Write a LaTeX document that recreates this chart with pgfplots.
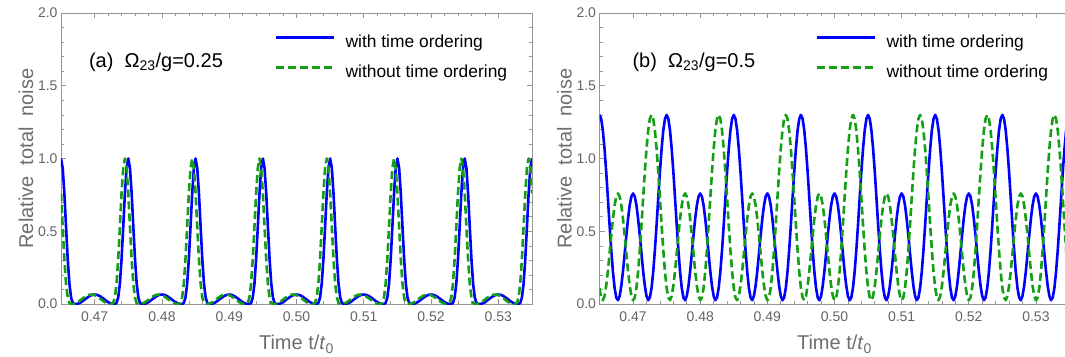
\documentclass[border=0pt]{standalone}
\usepackage{fontspec}
\setmainfont{Liberation Sans}
\usepackage{pgfplots}
\usepackage{pgfplotstable}
\pgfplotsset{compat=1.18}
\definecolor{mblue}{RGB}{0,0,255}
\definecolor{mgreen}{RGB}{20,160,20}
\definecolor{framegray}{RGB}{150,150,150}
\definecolor{tickgray}{RGB}{100,100,100}
\definecolor{labelgray}{RGB}{110,110,110}

\pgfplotstableread[row sep=\\]{
x ba ga bb gb\\
0.46500 1.000 0.761 1.300 0.110\\
0.46525 0.935 0.531 1.273 0.044\\
0.46550 0.761 0.308 1.193 0.026\\
0.46575 0.531 0.139 1.067 0.055\\
0.46600 0.308 0.044 0.908 0.125\\
0.46625 0.139 0.007 0.728 0.226\\
0.46650 0.044 0.000 0.543 0.346\\
0.46675 0.007 0.000 0.370 0.471\\
0.46700 0.000 0.002 0.222 0.586\\
0.46725 0.000 0.007 0.110 0.679\\
0.46750 0.002 0.013 0.044 0.739\\
0.46775 0.007 0.021 0.026 0.760\\
0.46800 0.013 0.030 0.055 0.739\\
0.46825 0.021 0.039 0.125 0.679\\
0.46850 0.030 0.047 0.226 0.586\\
0.46875 0.039 0.055 0.346 0.471\\
0.46900 0.047 0.060 0.471 0.346\\
0.46925 0.055 0.064 0.586 0.226\\
0.46950 0.060 0.065 0.679 0.125\\
0.46975 0.064 0.064 0.739 0.055\\
0.47000 0.065 0.060 0.760 0.026\\
0.47025 0.064 0.055 0.739 0.044\\
0.47050 0.060 0.047 0.679 0.110\\
0.47075 0.055 0.039 0.586 0.222\\
0.47100 0.047 0.030 0.471 0.370\\
0.47125 0.039 0.021 0.346 0.543\\
0.47150 0.030 0.013 0.226 0.728\\
0.47175 0.021 0.007 0.125 0.908\\
0.47200 0.013 0.002 0.055 1.067\\
0.47225 0.007 0.000 0.026 1.193\\
0.47250 0.002 0.000 0.044 1.273\\
0.47275 0.000 0.007 0.110 1.300\\
0.47300 0.000 0.044 0.222 1.273\\
0.47325 0.007 0.139 0.370 1.193\\
0.47350 0.044 0.308 0.543 1.067\\
0.47375 0.139 0.531 0.728 0.908\\
0.47400 0.308 0.761 0.908 0.728\\
0.47425 0.531 0.935 1.067 0.543\\
0.47450 0.761 1.000 1.193 0.370\\
0.47475 0.935 0.935 1.273 0.222\\
0.47500 1.000 0.761 1.300 0.110\\
0.47525 0.935 0.531 1.273 0.044\\
0.47550 0.761 0.308 1.193 0.026\\
0.47575 0.531 0.139 1.067 0.055\\
0.47600 0.308 0.044 0.908 0.125\\
0.47625 0.139 0.007 0.728 0.226\\
0.47650 0.044 0.000 0.543 0.346\\
0.47675 0.007 0.000 0.370 0.471\\
0.47700 0.000 0.002 0.222 0.586\\
0.47725 0.000 0.007 0.110 0.679\\
0.47750 0.002 0.013 0.044 0.739\\
0.47775 0.007 0.021 0.026 0.760\\
0.47800 0.013 0.030 0.055 0.739\\
0.47825 0.021 0.039 0.125 0.679\\
0.47850 0.030 0.047 0.226 0.586\\
0.47875 0.039 0.055 0.346 0.471\\
0.47900 0.047 0.060 0.471 0.346\\
0.47925 0.055 0.064 0.586 0.226\\
0.47950 0.060 0.065 0.679 0.125\\
0.47975 0.064 0.064 0.739 0.055\\
0.48000 0.065 0.060 0.760 0.026\\
0.48025 0.064 0.055 0.739 0.044\\
0.48050 0.060 0.047 0.679 0.110\\
0.48075 0.055 0.039 0.586 0.222\\
0.48100 0.047 0.030 0.471 0.370\\
0.48125 0.039 0.021 0.346 0.543\\
0.48150 0.030 0.013 0.226 0.728\\
0.48175 0.021 0.007 0.125 0.908\\
0.48200 0.013 0.002 0.055 1.067\\
0.48225 0.007 0.000 0.026 1.193\\
0.48250 0.002 0.000 0.044 1.273\\
0.48275 0.000 0.007 0.110 1.300\\
0.48300 0.000 0.044 0.222 1.273\\
0.48325 0.007 0.139 0.370 1.193\\
0.48350 0.044 0.308 0.543 1.067\\
0.48375 0.139 0.531 0.728 0.908\\
0.48400 0.308 0.761 0.908 0.728\\
0.48425 0.531 0.935 1.067 0.543\\
0.48450 0.761 1.000 1.193 0.370\\
0.48475 0.935 0.935 1.273 0.222\\
0.48500 1.000 0.761 1.300 0.110\\
0.48525 0.935 0.531 1.273 0.044\\
0.48550 0.761 0.308 1.193 0.026\\
0.48575 0.531 0.139 1.067 0.055\\
0.48600 0.308 0.044 0.908 0.125\\
0.48625 0.139 0.007 0.728 0.226\\
0.48650 0.044 0.000 0.543 0.346\\
0.48675 0.007 0.000 0.370 0.471\\
0.48700 0.000 0.002 0.222 0.586\\
0.48725 0.000 0.007 0.110 0.679\\
0.48750 0.002 0.013 0.044 0.739\\
0.48775 0.007 0.021 0.026 0.760\\
0.48800 0.013 0.030 0.055 0.739\\
0.48825 0.021 0.039 0.125 0.679\\
0.48850 0.030 0.047 0.226 0.586\\
0.48875 0.039 0.055 0.346 0.471\\
0.48900 0.047 0.060 0.471 0.346\\
0.48925 0.055 0.064 0.586 0.226\\
0.48950 0.060 0.065 0.679 0.125\\
0.48975 0.064 0.064 0.739 0.055\\
0.49000 0.065 0.060 0.760 0.026\\
0.49025 0.064 0.055 0.739 0.044\\
0.49050 0.060 0.047 0.679 0.110\\
0.49075 0.055 0.039 0.586 0.222\\
0.49100 0.047 0.030 0.471 0.370\\
0.49125 0.039 0.021 0.346 0.543\\
0.49150 0.030 0.013 0.226 0.728\\
0.49175 0.021 0.007 0.125 0.908\\
0.49200 0.013 0.002 0.055 1.067\\
0.49225 0.007 0.000 0.026 1.193\\
0.49250 0.002 0.000 0.044 1.273\\
0.49275 0.000 0.007 0.110 1.300\\
0.49300 0.000 0.044 0.222 1.273\\
0.49325 0.007 0.139 0.370 1.193\\
0.49350 0.044 0.308 0.543 1.067\\
0.49375 0.139 0.531 0.728 0.908\\
0.49400 0.308 0.761 0.908 0.728\\
0.49425 0.531 0.935 1.067 0.543\\
0.49450 0.761 1.000 1.193 0.370\\
0.49475 0.935 0.935 1.273 0.222\\
0.49500 1.000 0.761 1.300 0.110\\
0.49525 0.935 0.531 1.273 0.044\\
0.49550 0.761 0.308 1.193 0.026\\
0.49575 0.531 0.139 1.067 0.055\\
0.49600 0.308 0.044 0.908 0.125\\
0.49625 0.139 0.007 0.728 0.226\\
0.49650 0.044 0.000 0.543 0.346\\
0.49675 0.007 0.000 0.370 0.471\\
0.49700 0.000 0.002 0.222 0.586\\
0.49725 0.000 0.007 0.110 0.679\\
0.49750 0.002 0.013 0.044 0.739\\
0.49775 0.007 0.021 0.026 0.760\\
0.49800 0.013 0.030 0.055 0.739\\
0.49825 0.021 0.039 0.125 0.679\\
0.49850 0.030 0.047 0.226 0.586\\
0.49875 0.039 0.055 0.346 0.471\\
0.49900 0.047 0.060 0.471 0.346\\
0.49925 0.055 0.064 0.586 0.226\\
0.49950 0.060 0.065 0.679 0.125\\
0.49975 0.064 0.064 0.739 0.055\\
0.50000 0.065 0.060 0.760 0.026\\
0.50025 0.064 0.055 0.739 0.044\\
0.50050 0.060 0.047 0.679 0.110\\
0.50075 0.055 0.039 0.586 0.222\\
0.50100 0.047 0.030 0.471 0.370\\
0.50125 0.039 0.021 0.346 0.543\\
0.50150 0.030 0.013 0.226 0.728\\
0.50175 0.021 0.007 0.125 0.908\\
0.50200 0.013 0.002 0.055 1.067\\
0.50225 0.007 0.000 0.026 1.193\\
0.50250 0.002 0.000 0.044 1.273\\
0.50275 0.000 0.007 0.110 1.300\\
0.50300 0.000 0.044 0.222 1.273\\
0.50325 0.007 0.139 0.370 1.193\\
0.50350 0.044 0.308 0.543 1.067\\
0.50375 0.139 0.531 0.728 0.908\\
0.50400 0.308 0.761 0.908 0.728\\
0.50425 0.531 0.935 1.067 0.543\\
0.50450 0.761 1.000 1.193 0.370\\
0.50475 0.935 0.935 1.273 0.222\\
0.50500 1.000 0.761 1.300 0.110\\
0.50525 0.935 0.531 1.273 0.044\\
0.50550 0.761 0.308 1.193 0.026\\
0.50575 0.531 0.139 1.067 0.055\\
0.50600 0.308 0.044 0.908 0.125\\
0.50625 0.139 0.007 0.728 0.226\\
0.50650 0.044 0.000 0.543 0.346\\
0.50675 0.007 0.000 0.370 0.471\\
0.50700 0.000 0.002 0.222 0.586\\
0.50725 0.000 0.007 0.110 0.679\\
0.50750 0.002 0.013 0.044 0.739\\
0.50775 0.007 0.021 0.026 0.760\\
0.50800 0.013 0.030 0.055 0.739\\
0.50825 0.021 0.039 0.125 0.679\\
0.50850 0.030 0.047 0.226 0.586\\
0.50875 0.039 0.055 0.346 0.471\\
0.50900 0.047 0.060 0.471 0.346\\
0.50925 0.055 0.064 0.586 0.226\\
0.50950 0.060 0.065 0.679 0.125\\
0.50975 0.064 0.064 0.739 0.055\\
0.51000 0.065 0.060 0.760 0.026\\
0.51025 0.064 0.055 0.739 0.044\\
0.51050 0.060 0.047 0.679 0.110\\
0.51075 0.055 0.039 0.586 0.222\\
0.51100 0.047 0.030 0.471 0.370\\
0.51125 0.039 0.021 0.346 0.543\\
0.51150 0.030 0.013 0.226 0.728\\
0.51175 0.021 0.007 0.125 0.908\\
0.51200 0.013 0.002 0.055 1.067\\
0.51225 0.007 0.000 0.026 1.193\\
0.51250 0.002 0.000 0.044 1.273\\
0.51275 0.000 0.007 0.110 1.300\\
0.51300 0.000 0.044 0.222 1.273\\
0.51325 0.007 0.139 0.370 1.193\\
0.51350 0.044 0.308 0.543 1.067\\
0.51375 0.139 0.531 0.728 0.908\\
0.51400 0.308 0.761 0.908 0.728\\
0.51425 0.531 0.935 1.067 0.543\\
0.51450 0.761 1.000 1.193 0.370\\
0.51475 0.935 0.935 1.273 0.222\\
0.51500 1.000 0.761 1.300 0.110\\
0.51525 0.935 0.531 1.273 0.044\\
0.51550 0.761 0.308 1.193 0.026\\
0.51575 0.531 0.139 1.067 0.055\\
0.51600 0.308 0.044 0.908 0.125\\
0.51625 0.139 0.007 0.728 0.226\\
0.51650 0.044 0.000 0.543 0.346\\
0.51675 0.007 0.000 0.370 0.471\\
0.51700 0.000 0.002 0.222 0.586\\
0.51725 0.000 0.007 0.110 0.679\\
0.51750 0.002 0.013 0.044 0.739\\
0.51775 0.007 0.021 0.026 0.760\\
0.51800 0.013 0.030 0.055 0.739\\
0.51825 0.021 0.039 0.125 0.679\\
0.51850 0.030 0.047 0.226 0.586\\
0.51875 0.039 0.055 0.346 0.471\\
0.51900 0.047 0.060 0.471 0.346\\
0.51925 0.055 0.064 0.586 0.226\\
0.51950 0.060 0.065 0.679 0.125\\
0.51975 0.064 0.064 0.739 0.055\\
0.52000 0.065 0.060 0.760 0.026\\
0.52025 0.064 0.055 0.739 0.044\\
0.52050 0.060 0.047 0.679 0.110\\
0.52075 0.055 0.039 0.586 0.222\\
0.52100 0.047 0.030 0.471 0.370\\
0.52125 0.039 0.021 0.346 0.543\\
0.52150 0.030 0.013 0.226 0.728\\
0.52175 0.021 0.007 0.125 0.908\\
0.52200 0.013 0.002 0.055 1.067\\
0.52225 0.007 0.000 0.026 1.193\\
0.52250 0.002 0.000 0.044 1.273\\
0.52275 0.000 0.007 0.110 1.300\\
0.52300 0.000 0.044 0.222 1.273\\
0.52325 0.007 0.139 0.370 1.193\\
0.52350 0.044 0.308 0.543 1.067\\
0.52375 0.139 0.531 0.728 0.908\\
0.52400 0.308 0.761 0.908 0.728\\
0.52425 0.531 0.935 1.067 0.543\\
0.52450 0.761 1.000 1.193 0.370\\
0.52475 0.935 0.935 1.273 0.222\\
0.52500 1.000 0.761 1.300 0.110\\
0.52525 0.935 0.531 1.273 0.044\\
0.52550 0.761 0.308 1.193 0.026\\
0.52575 0.531 0.139 1.067 0.055\\
0.52600 0.308 0.044 0.908 0.125\\
0.52625 0.139 0.007 0.728 0.226\\
0.52650 0.044 0.000 0.543 0.346\\
0.52675 0.007 0.000 0.370 0.471\\
0.52700 0.000 0.002 0.222 0.586\\
0.52725 0.000 0.007 0.110 0.679\\
0.52750 0.002 0.013 0.044 0.739\\
0.52775 0.007 0.021 0.026 0.760\\
0.52800 0.013 0.030 0.055 0.739\\
0.52825 0.021 0.039 0.125 0.679\\
0.52850 0.030 0.047 0.226 0.586\\
0.52875 0.039 0.055 0.346 0.471\\
0.52900 0.047 0.060 0.471 0.346\\
0.52925 0.055 0.064 0.586 0.226\\
0.52950 0.060 0.065 0.679 0.125\\
0.52975 0.064 0.064 0.739 0.055\\
0.53000 0.065 0.060 0.760 0.026\\
0.53025 0.064 0.055 0.739 0.044\\
0.53050 0.060 0.047 0.679 0.110\\
0.53075 0.055 0.039 0.586 0.222\\
0.53100 0.047 0.030 0.471 0.370\\
0.53125 0.039 0.021 0.346 0.543\\
0.53150 0.030 0.013 0.226 0.728\\
0.53175 0.021 0.007 0.125 0.908\\
0.53200 0.013 0.002 0.055 1.067\\
0.53225 0.007 0.000 0.026 1.193\\
0.53250 0.002 0.000 0.044 1.273\\
0.53275 0.000 0.007 0.110 1.300\\
0.53300 0.000 0.044 0.222 1.273\\
0.53325 0.007 0.139 0.370 1.193\\
0.53350 0.044 0.308 0.543 1.067\\
0.53375 0.139 0.531 0.728 0.908\\
0.53400 0.308 0.761 0.908 0.728\\
0.53425 0.531 0.935 1.067 0.543\\
0.53450 0.761 1.000 1.193 0.370\\
0.53475 0.935 0.935 1.273 0.222\\
0.53500 1.000 0.761 1.300 0.110\\
}\datatable

\pgfplotsset{
  panel/.style={
    scale only axis, width=471pt, height=291pt, anchor=south west,
    xmin=0.465, xmax=0.535, ymin=0, ymax=2,
    xtick={0.47,0.48,0.49,0.50,0.51,0.52,0.53},
    ytick={0,0.5,1,1.5,2},
    minor x tick num=4, minor y tick num=4,
    tick align=inside,
    major tick length=5pt, minor tick length=3pt,
    axis line style={framegray, line width=0.8pt},
    every tick/.style={framegray, line width=0.6pt},
    xticklabel style={yshift=-4pt, /pgf/number format/.cd, fixed, fixed zerofill, precision=2, assume math mode=true},
    yticklabel style={/pgf/number format/.cd, fixed, fixed zerofill, precision=1, assume math mode=true},
    tick label style={font=\fontsize{14}{14}\selectfont, text=tickgray},
    xlabel={Time t/\textit{t}\textsubscript{0}},
    ylabel={Relative\ \ total\ \ noise},
    label style={font=\fontsize{20}{20}\selectfont, text=labelgray},
    xlabel style={at={(axis description cs:0.5,-0.158)}, anchor=base},
    ylabel style={at={(axis description cs:-0.0594,0.5)}, anchor=base, rotate=0},
    legend cell align=left,
    legend style={draw=none, fill=none, inner sep=0pt, outer sep=0pt, anchor=north west,
      font=\fontsize{17.4}{17.4}\selectfont, row sep=13pt,
      nodes={inner sep=0pt, text height=13pt, text depth=4pt}},
    legend image code/.code={\draw[##1] (0pt,5pt) -- (58pt,5pt); \path (68pt,0pt);},
  },
  bline/.style={mblue, line width=2.6pt, line join=round},
  gline/.style={mgreen, line width=2.6pt, line join=round, dash pattern=on 8pt off 4pt},
}

\begin{document}
\begin{tikzpicture}
\useasboundingbox (0pt,0pt) rectangle (1065pt,356pt);
\clip (0pt,0pt) rectangle (1065pt,356pt);
\begin{axis}[panel, at={(61pt,52pt)}, legend style={at={(0.4544,0.9278)}}]
\addplot[bline] table[x=x,y=ba]{\datatable};
\addlegendentry{with time ordering}
\addplot[gline] table[x=x,y=ga]{\datatable};
\addlegendentry{without time ordering}
\node[anchor=base west, font=\fontsize{20}{20}\selectfont] at (rel axis cs:0.052,0.8144) {(a)\ \ Ω\textsubscript{23}/g=0.25};
\end{axis}
\begin{axis}[panel, at={(599.5pt,52pt)}, width=470pt, legend style={at={(0.4606,0.9278)}}]
\addplot[bline] table[x=x,y=bb]{\datatable};
\addlegendentry{with time ordering}
\addplot[gline] table[x=x,y=gb]{\datatable};
\addlegendentry{without time ordering}
\node[anchor=base west, font=\fontsize{20}{20}\selectfont] at (rel axis cs:0.0628,0.8144) {(b)\ \ Ω\textsubscript{23}/g=0.5};
\end{axis}
\end{tikzpicture}
\end{document}
